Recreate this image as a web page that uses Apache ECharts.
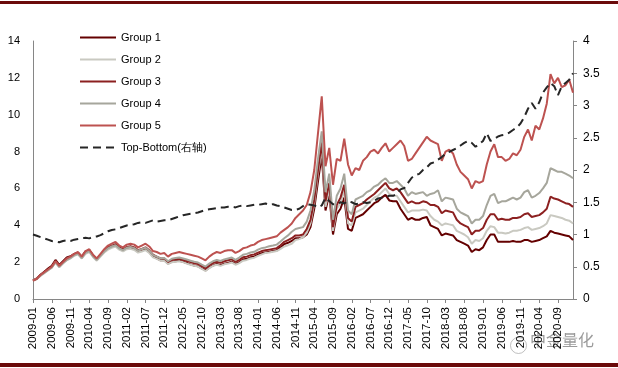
<!DOCTYPE html>
<html>
<head>
<meta charset="utf-8">
<script src="https://cdn.jsdelivr.net/npm/echarts@6/dist/echarts.min.js"></script>
<style>
html,body{margin:0;padding:0;background:#fff;}
#c{width:618px;height:368px;}
</style>
</head>
<body>
<div id="c"></div>
<script>
// Monthly categories 2009-01 .. 2021-01
var startYear = 2009, monthCount = 145;
var categories = [];
for (var i = 0; i < monthCount; i++) {
  var y = startYear + Math.floor(i / 12), m = (i % 12) + 1;
  categories.push(y + '-' + (m < 10 ? '0' + m : m));
}
var seriesNames = ['Group 1', 'Group 2', 'Group 3', 'Group 4', 'Group 5', 'Top-Bottom(右轴)'];

var group5 = [1.0,1.1,1.3,1.45,1.6,1.75,2.05,1.8,2.0,2.2,2.3,2.45,2.55,2.3,2.6,2.7,2.4,2.2,2.45,2.7,
2.9,3.0,3.1,2.9,2.8,2.95,3.0,2.95,2.8,2.9,3.0,2.85,2.6,2.55,2.45,2.5,2.3,2.45,2.5,2.55,
2.5,2.45,2.4,2.35,2.3,2.2,2.1,2.3,2.45,2.55,2.5,2.6,2.65,2.65,2.5,2.6,2.75,2.8,2.9,2.95,
3.1,3.2,3.25,3.3,3.35,3.4,3.6,3.75,3.9,4.1,4.4,4.6,4.8,5.1,5.8,7.0,9.0,11.0,7.2,8.2,
6.2,7.6,7.5,8.7,7.3,6.7,7.1,7.0,7.5,7.7,8.0,8.1,7.9,8.2,8.45,8.0,8.2,8.4,8.6,8.3,
7.5,7.6,7.9,8.2,8.5,8.8,8.6,8.5,8.4,7.5,8.0,8.1,7.9,7.3,6.9,6.7,6.5,6.0,6.4,6.3,
6.4,7.3,8.0,8.4,7.7,7.7,7.5,7.6,7.9,7.8,8.1,8.8,9.2,8.6,9.4,9.2,9.8,10.6,12.2,11.7,
12.0,11.5,11.6,11.9,11.2];

var group4 = [1.0,1.1,1.28,1.42,1.56,1.7,2.0,1.75,1.95,2.12,2.22,2.38,2.45,2.22,2.5,2.6,2.32,2.12,2.35,2.58,
2.75,2.85,2.92,2.75,2.65,2.78,2.82,2.76,2.62,2.7,2.78,2.62,2.38,2.3,2.2,2.22,2.05,2.18,2.22,2.25,
2.2,2.14,2.08,2.02,1.98,1.86,1.76,1.92,2.05,2.12,2.06,2.15,2.2,2.25,2.12,2.25,2.4,2.45,2.52,2.56,
2.68,2.76,2.8,2.86,2.9,2.95,3.12,3.3,3.45,3.65,3.8,3.85,3.9,4.2,4.8,5.9,7.6,9.1,5.8,6.8,
4.3,5.6,6.0,6.8,4.8,4.6,5.4,5.5,5.6,5.8,5.9,6.1,6.2,6.4,6.55,6.3,6.3,6.4,6.2,6.0,
5.6,5.8,5.7,5.75,5.8,5.6,5.7,5.75,5.9,5.3,5.5,5.45,5.4,4.9,4.7,4.6,4.5,4.1,4.3,4.3,
4.5,5.1,5.6,5.7,5.2,5.3,5.3,5.4,5.5,5.4,5.5,5.8,5.9,5.5,5.6,5.75,6.0,6.3,7.1,7.0,
6.9,6.9,6.8,6.7,6.55];

var group3 = [1.0,1.1,1.3,1.45,1.6,1.75,2.05,1.8,2.0,2.18,2.28,2.42,2.5,2.28,2.55,2.65,2.35,2.15,2.4,2.62,
2.8,2.9,2.98,2.8,2.7,2.82,2.86,2.8,2.65,2.72,2.8,2.64,2.4,2.3,2.2,2.2,2.02,2.12,2.15,2.18,
2.12,2.06,2.0,1.94,1.9,1.78,1.66,1.82,1.95,2.02,1.96,2.05,2.1,2.15,2.02,2.12,2.26,2.3,2.38,2.42,
2.52,2.6,2.64,2.68,2.72,2.76,2.92,3.1,3.2,3.3,3.45,3.45,3.5,3.8,4.3,5.4,7.0,8.5,5.3,6.3,
3.9,5.1,5.5,6.2,4.4,4.2,5.0,5.1,5.2,5.4,5.55,5.7,5.9,6.1,6.3,6.0,5.9,6.0,5.8,5.5,
5.2,5.3,5.2,5.2,5.3,5.25,5.1,5.1,5.0,4.65,4.8,4.75,4.7,4.3,4.1,4.0,3.9,3.5,3.7,3.7,
3.85,4.3,4.6,4.6,4.3,4.35,4.3,4.3,4.4,4.4,4.45,4.6,4.65,4.45,4.5,4.55,4.7,4.9,5.55,5.45,
5.4,5.3,5.2,5.15,5.0];

var group2 = [1.0,1.08,1.25,1.4,1.55,1.7,1.98,1.72,1.92,2.1,2.2,2.35,2.42,2.2,2.45,2.55,2.28,2.08,2.3,2.52,
2.68,2.78,2.85,2.68,2.58,2.7,2.72,2.66,2.52,2.58,2.65,2.5,2.26,2.18,2.08,2.08,1.9,2.0,2.02,2.05,
2.0,1.92,1.86,1.8,1.76,1.64,1.52,1.68,1.8,1.86,1.8,1.88,1.92,1.98,1.86,1.95,2.08,2.12,2.2,2.24,
2.34,2.42,2.5,2.52,2.56,2.6,2.72,2.85,2.92,3.0,3.2,3.25,3.35,3.6,4.1,5.2,6.8,8.2,5.0,6.0,
3.7,4.9,5.2,5.9,4.1,4.0,4.7,4.8,4.9,5.1,5.3,5.5,5.6,5.8,6.0,5.7,5.6,5.6,5.3,5.0,
4.7,4.8,4.8,4.8,4.85,4.8,4.5,4.3,4.2,4.0,4.1,4.05,4.0,3.7,3.6,3.5,3.35,3.0,3.2,3.15,
3.3,3.7,3.95,3.9,3.6,3.6,3.55,3.6,3.7,3.7,3.75,3.85,3.9,3.75,3.8,3.85,3.95,4.1,4.55,4.5,
4.45,4.4,4.3,4.25,4.1];

var group1 = [1.0,1.12,1.32,1.48,1.65,1.8,2.12,1.85,2.05,2.25,2.32,2.45,2.52,2.3,2.58,2.65,2.38,2.15,2.38,2.6,
2.75,2.85,2.92,2.72,2.62,2.75,2.78,2.72,2.58,2.64,2.7,2.55,2.3,2.2,2.1,2.1,1.92,2.02,2.05,2.08,
2.02,1.95,1.88,1.82,1.78,1.66,1.55,1.7,1.82,1.9,1.84,1.92,1.96,2.02,1.9,2.0,2.14,2.18,2.26,2.3,
2.4,2.48,2.52,2.56,2.6,2.64,2.8,2.98,3.05,3.15,3.3,3.3,3.35,3.5,3.9,4.9,6.4,7.8,4.8,5.7,
3.5,4.6,4.9,5.5,3.8,3.7,4.4,4.5,4.6,4.8,5.0,5.2,5.3,5.5,5.65,5.35,5.3,5.3,4.9,4.6,
4.3,4.4,4.3,4.3,4.4,4.45,4.0,3.9,3.8,3.45,3.55,3.5,3.45,3.2,3.1,3.0,2.9,2.55,2.7,2.65,
2.8,3.2,3.5,3.5,3.1,3.1,3.1,3.1,3.15,3.1,3.1,3.2,3.2,3.1,3.15,3.2,3.3,3.4,3.7,3.6,
3.55,3.5,3.45,3.4,3.2];

var topBottom = [1.0,0.98,0.96,0.94,0.92,0.9,0.89,0.88,0.9,0.91,0.9,0.92,0.93,0.94,0.95,0.94,0.96,0.97,0.99,1.02,
1.05,1.07,1.08,1.1,1.12,1.14,1.15,1.16,1.18,1.19,1.18,1.2,1.22,1.2,1.21,1.22,1.22,1.24,1.26,1.28,
1.3,1.31,1.32,1.33,1.34,1.36,1.38,1.39,1.4,1.41,1.42,1.42,1.43,1.43,1.42,1.44,1.45,1.44,1.45,1.46,
1.46,1.47,1.48,1.46,1.47,1.45,1.44,1.42,1.4,1.38,1.38,1.4,1.44,1.47,1.46,1.45,1.42,1.45,1.57,1.52,
1.47,1.47,1.5,1.48,1.52,1.5,1.47,1.48,1.5,1.49,1.5,1.52,1.56,1.57,1.58,1.6,1.6,1.63,1.7,1.72,
1.8,1.88,1.92,1.94,2.0,2.04,2.1,2.12,2.16,2.2,2.25,2.28,2.31,2.34,2.38,2.42,2.45,2.42,2.36,2.4,
2.45,2.57,2.45,2.48,2.52,2.54,2.55,2.58,2.62,2.66,2.72,2.82,2.95,3.04,2.95,3.05,3.2,3.28,3.35,3.3,
3.16,3.3,3.35,3.4,3.5];

var leftTicks = {min: 0, max: 14, interval: 2};
var rightTicks = {min: 0, max: 4, interval: 0.5};
var colors = ['#640000', '#C9C9C1', '#8C2020', '#A6A69C', '#BD5250', '#262626'];

var chart = echarts.init(document.getElementById('c'), null, {renderer: 'canvas'});
var font = '"Liberation Sans", Arial, sans-serif';
function lineSeries(name, data, idx, axis) {
  return {
    name: name, type: 'line', data: data, yAxisIndex: axis,
    symbol: 'none', showSymbol: false, smooth: false, z: 2 + idx,
    lineStyle: {color: colors[idx], width: 2, type: idx === 5 ? [8, 5] : 'solid'},
    itemStyle: {color: colors[idx]},
    emphasis: {disabled: true}
  };
}
chart.setOption({
  animation: false,
  backgroundColor: '#fff',
  grid: {left: 33, right: 45, top: 41, bottom: 69, containLabel: false},
  legend: {
    orient: 'vertical', left: 74, top: 27, itemWidth: 36, itemHeight: 12, itemGap: 11,
    itemStyle: {opacity: 0, borderWidth: 0},
    textStyle: {fontFamily: font, fontSize: 11, color: '#000'},
    data: seriesNames
  },
  xAxis: {
    type: 'category', data: categories, boundaryGap: false,
    axisLine: {lineStyle: {color: '#868686', width: 1}},
    axisTick: {show: true, interval: 4, length: 4, lineStyle: {color: '#868686'}},
    axisLabel: {interval: 4, rotate: 90, fontFamily: font, fontSize: 11.5, color: '#000', margin: 8},
    splitLine: {show: false}
  },
  yAxis: [{
    type: 'value', min: leftTicks.min, max: leftTicks.max, interval: leftTicks.interval,
    axisLine: {show: true, lineStyle: {color: '#868686'}},
    axisTick: {show: false},
    axisLabel: {fontFamily: font, fontSize: 11, color: '#000', margin: 13},
    splitLine: {show: false}
  }, {
    type: 'value', min: rightTicks.min, max: rightTicks.max, interval: rightTicks.interval,
    position: 'right',
    axisLine: {show: true, lineStyle: {color: '#868686'}},
    axisTick: {show: true, length: 4, lineStyle: {color: '#868686'}},
    axisLabel: {fontFamily: font, fontSize: 12, color: '#000', margin: 10},
    splitLine: {show: false}
  }],
  graphic: [
    {type: 'rect', left: 0, top: 1, shape: {width: 618, height: 3}, style: {fill: '#6B0A0A'}, silent: true},
    {type: 'rect', left: 0, top: 363, shape: {width: 618, height: 4}, style: {fill: '#6B0A0A'}, silent: true},
    {type: 'text', left: 530, top: 332, style: {text: '中金量化', font: '16px "Noto Sans CJK SC"', fill: 'rgba(120,120,120,0.75)'}, silent: true},
    {type: 'circle', left: 508, top: 335, shape: {r: 8}, style: {fill: 'none', stroke: 'rgba(150,150,150,0.6)', lineWidth: 1}, silent: true}
  ],
  series: [
    lineSeries(seriesNames[0], group1, 0, 0),
    lineSeries(seriesNames[1], group2, 1, 0),
    lineSeries(seriesNames[2], group3, 2, 0),
    lineSeries(seriesNames[3], group4, 3, 0),
    lineSeries(seriesNames[4], group5, 4, 0),
    lineSeries(seriesNames[5], topBottom, 5, 1)
  ]
});
</script>
</body>
</html>
